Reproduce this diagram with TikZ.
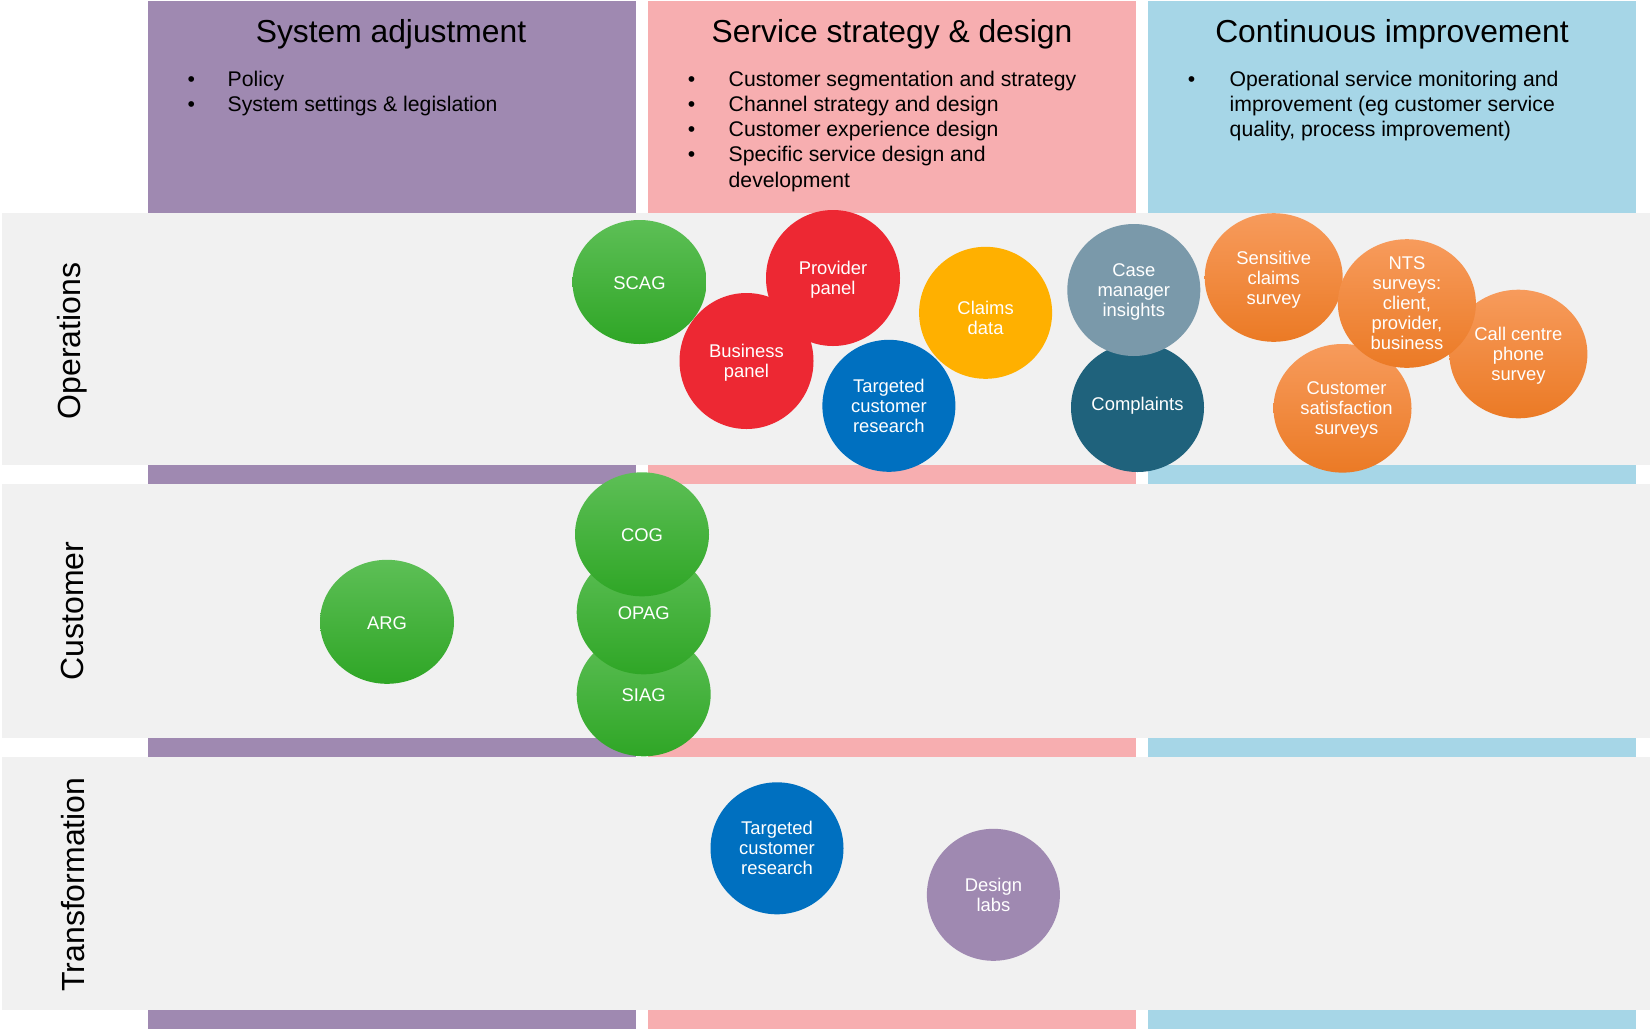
\documentclass[tikz,border=0pt]{standalone}
\usepackage{fontspec}
\setmainfont{Liberation Sans}
\usetikzlibrary{shapes.geometric}

% palette
\definecolor{colPurple}{HTML}{9F89B1}
\definecolor{colPink}{HTML}{F7AEB0}
\definecolor{colBlue}{HTML}{A6D6E7}
\definecolor{bandGrey}{HTML}{F1F1F1}
\definecolor{bubRed}{HTML}{ED2833}
\definecolor{bubBlue}{HTML}{0070C0}
\definecolor{bubGold}{HTML}{FFB000}
\definecolor{bubSlate}{HTML}{7A99AA}
\definecolor{bubTeal}{HTML}{1F627C}
\definecolor{bubLilac}{HTML}{9F89B1}
\definecolor{greenTop}{HTML}{5DBF56}
\definecolor{greenMid}{HTML}{3BB42E}
\definecolor{greenBot}{HTML}{2FA626}
\definecolor{orangeTop}{HTML}{F79B5C}
\definecolor{orangeMid}{HTML}{F88C34}
\definecolor{orangeBot}{HTML}{EB7A25}

\tikzset{
  % one unit = one pixel of a 1650 x 1029 canvas, y pointing down
  x=0.5pt, y=-0.5pt,
  bub/.style args={#1x#2}{ellipse, draw=none, inner sep=0pt,
      minimum width=#1pt, minimum height=#2pt},
  greenbub/.style={bub=#1, top color=greenTop, middle color=greenMid, bottom color=greenBot},
  orangebub/.style={bub=#1, top color=orangeTop, middle color=orangeMid, bottom color=orangeBot},
  btext/.style={text=white, align=center, inner sep=0pt,
      font=\fontsize{9.2}{10}\selectfont},
  title/.style={anchor=base, inner sep=0pt, font=\fontsize{15.9}{19}\selectfont},
  rowlabel/.style={rotate=90, inner sep=0pt, font=\fontsize{16}{19}\selectfont},
  bullet/.style={anchor=base west, inner sep=0pt, font=\fontsize{10.6}{12.7}\selectfont},
}

\begin{document}
\begin{tikzpicture}
\useasboundingbox (0,0) rectangle (1650,1029);
\fill[white] (0,0) rectangle (1650,1029);

% column headers
\fill[colPurple] (148,1) rectangle (636,212.6);
\fill[colPink]   (648,1) rectangle (1136,212.6);
\fill[colBlue]   (1148,1) rectangle (1636,212.6);

\node[title] (hsys) at (391,42.7)  {System adjustment};
\node[title] (hsvc) at (892,42.7)  {Service strategy \& design};
\node[title] (hci)  at (1392,42.7) {Continuous improvement};

% header bullet lists
\node[bullet] (b1a) at (187.3,86)    {•};
\node[bullet] (t1a) at (227.3,86)    {Policy};
\node[bullet] (b1b) at (187.3,111.3) {•};
\node[bullet] (t1b) at (227.3,111.3) {System settings \& legislation};

\node[bullet] (b2a) at (687.5,86)    {•};
\node[bullet] (t2a) at (728.3,86)    {Customer segmentation and strategy};
\node[bullet] (b2b) at (687.5,111.3) {•};
\node[bullet] (t2b) at (728.3,111.3) {Channel strategy and design};
\node[bullet] (b2c) at (687.5,136.6) {•};
\node[bullet] (t2c) at (728.3,136.6) {Customer experience design};
\node[bullet] (b2d) at (687.5,161.9) {•};
\node[bullet] (t2d) at (728.3,161.9) {Specific service design and};
\node[bullet] (t2e) at (728.3,187.2) {development};

\node[bullet] (b3a) at (1187.5,86)    {•};
\node[bullet] (t3a) at (1229.3,86)    {Operational service monitoring and};
\node[bullet] (t3b) at (1229.3,111.3) {improvement (eg customer service};
\node[bullet] (t3c) at (1229.3,136.6) {quality, process improvement)};

% row bands
\fill[bandGrey] (2,212.6) rectangle (1650,465.1);
\fill[bandGrey] (2,484.1) rectangle (1650,737.7);
\fill[bandGrey] (2,756.6) rectangle (1650,1010.2);

% coloured strips under each band
\foreach \ya/\yb in {465.1/484.1, 737.7/756.6, 1010.2/1029}{
  \fill[colPurple] (148,\ya) rectangle (636,\yb);
  \fill[colPink]   (648,\ya) rectangle (1136,\yb);
  \fill[colBlue]   (1148,\ya) rectangle (1636,\yb);
}

% row labels
\node[rowlabel] (rops)  at (72,341)   {Operations};
\node[rowlabel] (rcust) at (72,611)   {Customer};
\node[rowlabel] (rtran) at (73,884.5) {Transformation};

% ---- Operations ----
\node[greenbub=67x62] (scag) at (639.5,282) {};
\node[bub=67x68, fill=bubRed] (prov) at (833,278) {};
\node[bub=67x68, fill=bubRed] (busi) at (746.5,361) {};
\node[bub=66.5x66, fill=bubGold] (claims) at (985.6,312.8) {};
\node[bub=66.5x66, fill=bubBlue] (tcr1) at (888.9,405.8) {};
\node[bub=66.5x64.5, fill=bubTeal] (compl) at (1137.5,407.5) {};
\node[bub=66.5x66, fill=bubSlate] (casem) at (1133.8,290) {};
\node[orangebub=69x64.3] (sens) at (1273.7,277.5) {};
\node[orangebub=69x64.3] (csat) at (1342.5,408.3) {};
\node[orangebub=69x64.3] (call) at (1518.4,354) {};
\node[orangebub=69x64.3] (nts)  at (1406.9,303.5) {};

\node[btext] (scag-t)   at ([yshift=-0.5pt]scag)   {SCAG};
\node[btext] (prov-t)   at ([yshift=-1pt]prov)     {Provider\\panel};
\node[btext] (busi-t)   at ([yshift=-1pt]busi)     {Business\\panel};
\node[btext] (claims-t) at ([yshift=-2.5pt]claims) {Claims\\data};
\node[btext] (tcr1-t)   at (tcr1)                  {Targeted\\customer\\research};
\node[btext] (compl-t)  at ([yshift=1pt]compl)     {Complaints};
\node[btext] (casem-t)  at ([yshift=-1pt]casem)    {Case\\manager\\insights};
\node[btext] (sens-t)   at ([yshift=-1pt]sens)     {Sensitive\\claims\\survey};
\node[btext] (csat-t)   at ([xshift=2pt,yshift=-1pt]csat) {Customer\\satisfaction\\surveys};
\node[btext] (call-t)   at ([yshift=-1pt]call)     {Call centre\\phone\\survey};
\node[btext] (nts-t)    at (nts)                   {NTS\\surveys:\\client,\\provider,\\business};

% ---- Customer ----
\node[greenbub=67x62] (arg)  at (387,621.8)   {};
\node[greenbub=67x62] (siag) at (643.7,694.3) {};
\node[greenbub=67x62] (opag) at (643.7,612.3) {};
\node[greenbub=67x62] (cog)  at (642,534.3)   {};

\node[btext] (arg-t)  at ([yshift=-0.5pt]arg)  {ARG};
\node[btext] (siag-t) at ([yshift=-0.5pt]siag) {SIAG};
\node[btext] (opag-t) at ([yshift=-0.5pt]opag) {OPAG};
\node[btext] (cog-t)  at ([yshift=-0.5pt]cog)  {COG};

% ---- Transformation ----
\node[bub=66.5x66, fill=bubBlue]  (tcr2)   at (777,848.3)   {};
\node[bub=66.5x66, fill=bubLilac] (dlabs)  at (993.4,894.8) {};

\node[btext] (tcr2-t)  at (tcr2)  {Targeted\\customer\\research};
\node[btext] (dlabs-t) at (dlabs) {Design\\labs};
\end{tikzpicture}
\end{document}
